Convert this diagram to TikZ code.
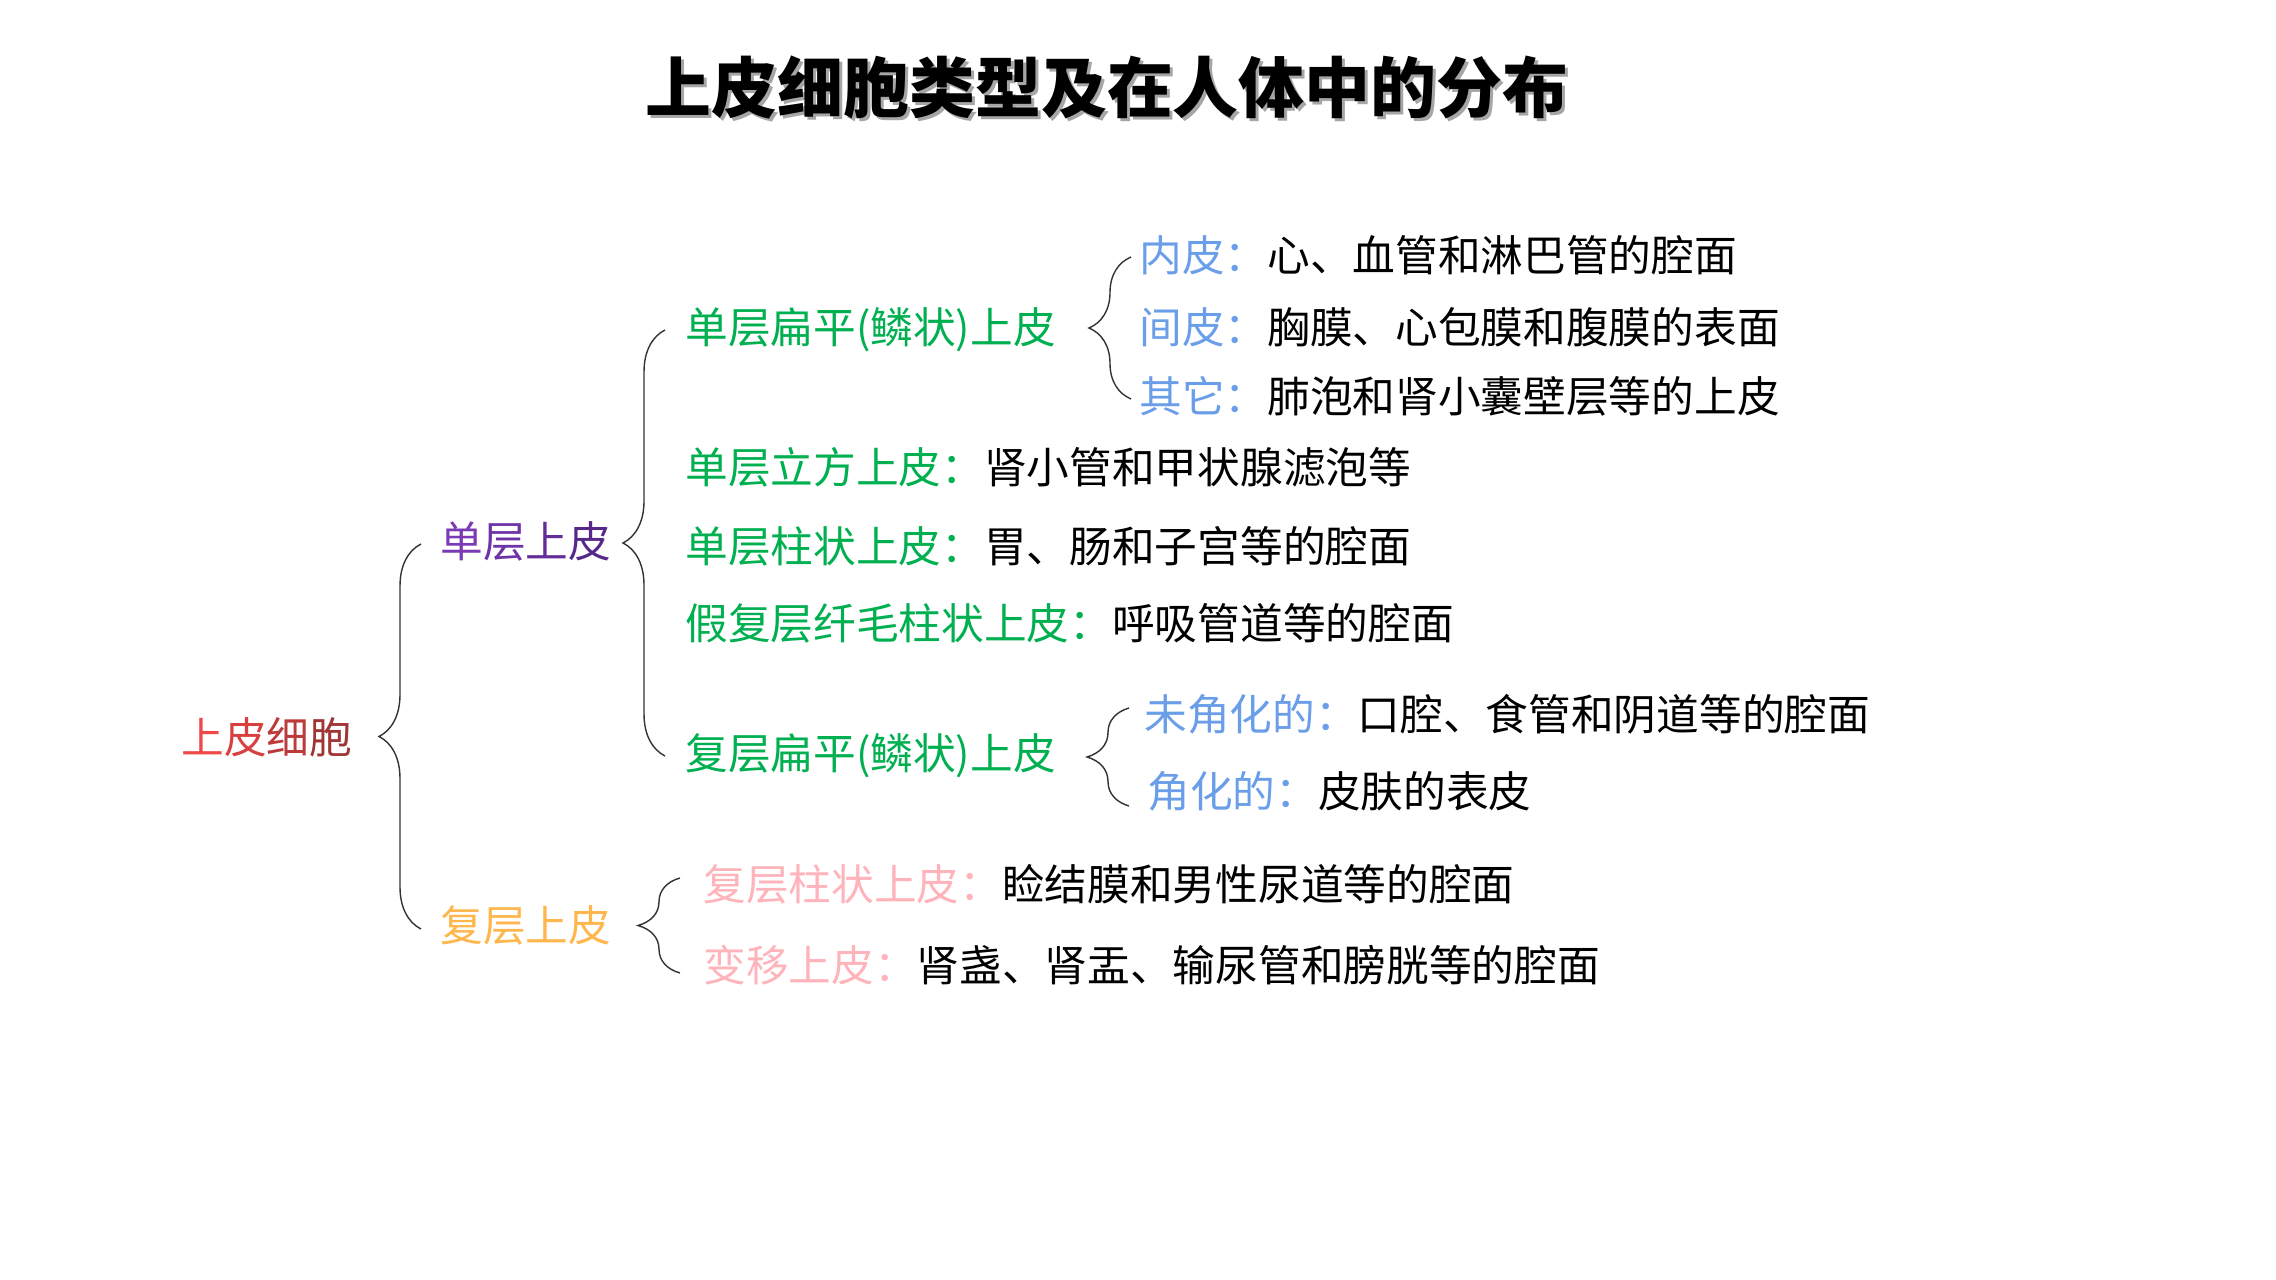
\documentclass[tikz,border=0pt]{standalone}
\usepackage{fontspec}
\setmainfont{Noto Sans CJK SC}
\usetikzlibrary{calc,decorations.pathreplacing}

\definecolor{redA}{HTML}{F04848}
\definecolor{redB}{HTML}{D84040}
\definecolor{redC}{HTML}{BC3A3A}
\definecolor{redD}{HTML}{A03535}
\definecolor{purA}{HTML}{7B3AB5}
\definecolor{purB}{HTML}{6E33A6}
\definecolor{purC}{HTML}{622D98}
\definecolor{purD}{HTML}{55288A}
\definecolor{grn}{HTML}{00B050}
\definecolor{blu}{HTML}{6A9EE8}
\definecolor{org}{HTML}{FFB74D}
\definecolor{pnk}{HTML}{FFB3BA}
\definecolor{bracecol}{HTML}{333333}

\tikzset{
  lbl/.style={anchor=west, inner sep=0pt, font=\fontsize{24.3}{30}\selectfont},
  ttl/.style={inner sep=0pt, font=\fontsize{37.5}{44}\selectfont\bfseries},
  curly/.style={draw=bracecol, line width=0.8pt, decorate,
    decoration={brace, amplitude=0.84cm}}
}

\begin{document}
\begin{tikzpicture}[x=0.02cm, y=-0.02cm]
    \useasboundingbox (0,0) rectangle (2276,1280);
    % TITLE
    \node[ttl, text=black!35] (titleshadow) at (1110,90) {上皮细胞类型及在人体中的分布};
    \node[ttl] (title) at (1107,87) {上皮细胞类型及在人体中的分布};
    % FIRST LEVEL
    \node[lbl] (root) at (181,737) {{\color{redA}上}{\color{redB}皮}{\color{redC}细}{\color{redD}胞}};
    % SECOND LEVEL
    \node[lbl] (single) at (440,541) {{\color{purA}单}{\color{purB}层}{\color{purC}上}{\color{purD}皮}};
    \node[lbl, text=org] (strat) at (440,925) {复层上皮};
    % THIRD LEVEL
    \node[lbl, text=grn] (sq1) at (685,330) {单层扁平(鳞状)上皮};
    \node[lbl] (cub) at (685,467) {{\color{grn}单层立方上皮：}肾小管和甲状腺滤泡等};
    \node[lbl] (col) at (685,546) {{\color{grn}单层柱状上皮：}胃、肠和子宫等的腔面};
    \node[lbl] (pseudo) at (685,623) {{\color{grn}假复层纤毛柱状上皮：}呼吸管道等的腔面};
    \node[lbl, text=grn] (sq2) at (685,756) {复层扁平(鳞状)上皮};
    \node[lbl] (stcol) at (703,884) {{\color{pnk}复层柱状上皮：}睑结膜和男性尿道等的腔面};
    \node[lbl] (trans) at (703,965) {{\color{pnk}变移上皮：}肾盏、肾盂、输尿管和膀胱等的腔面};
    % FOURTH LEVEL
    \node[lbl] (endo) at (1139,255) {{\color{blu}内皮：}心、血管和淋巴管的腔面};
    \node[lbl] (meso) at (1139,327) {{\color{blu}间皮：}胸膜、心包膜和腹膜的表面};
    \node[lbl] (other) at (1139,396) {{\color{blu}其它：}肺泡和肾小囊壁层等的上皮};
    \node[lbl] (nonker) at (1144,714) {{\color{blu}未角化的：}口腔、食管和阴道等的腔面};
    \node[lbl] (ker) at (1147,791) {{\color{blu}角化的：}皮肤的表皮};
    % braces
    \draw[curly] ($(strat.west)+(-19,4)$) -- ($(single.west)+(-19,3)$);
    \draw[curly] ($(sq2.west)+(-20,0)$) -- ($(sq1.west)+(-20,0)$);
    \draw[curly] ($(other.west)+(-8,3)$) -- ($(endo.west)+(-8,2)$);
    \draw[curly] ($(ker.west)+(-18,15)$) -- ($(nonker.west)+(-15,-6)$);
    \draw[curly] ($(trans.west)+(-23,8)$) -- ($(stcol.west)+(-23,-6)$);
\end{tikzpicture}
\end{document}
